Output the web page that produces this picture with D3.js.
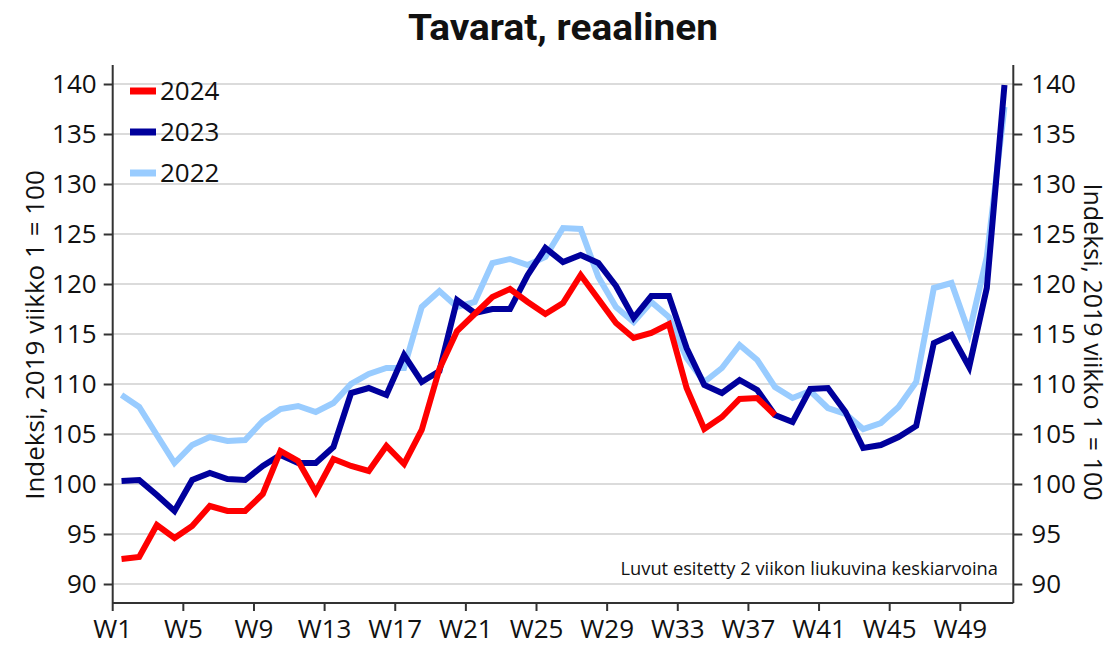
<!DOCTYPE html>
<html>
<head>
<meta charset="utf-8">
<script src="https://cdn.jsdelivr.net/npm/d3@7"></script>
<style>
  body { margin: 0; background: #fff; }
  svg { display: block; font-family: "Open Sans", "Noto Sans", sans-serif; }
</style>
</head>
<body>
<div id="chart"></div>
<script>
// weeks shown on the x axis (category per week)
var weeks = ["W1","W2","W3","W4","W5","W6","W7","W8","W9","W10",
  "W11","W12","W13","W14","W15","W16","W17","W18","W19","W20",
  "W21","W22","W23","W24","W25","W26","W27","W28","W29","W30",
  "W31","W32","W33","W34","W35","W36","W37","W38","W39","W40",
  "W41","W42","W43","W44","W45","W46","W47","W48","W49","W50","W51"];
var weekTicks = ["W1","W5","W9","W13","W17","W21","W25","W29","W33","W37","W41","W45","W49"];
var yTicks = [90, 95, 100, 105, 110, 115, 120, 125, 130, 135, 140];

var v2024 = [92.5, 92.7, 95.9, 94.6, 95.8, 97.8, 97.3, 97.3, 99.0, 103.3,
  102.3, 99.2, 102.5, 101.8, 101.3, 103.8, 102.0, 105.4, 111.5, 115.3,
  117.0, 118.7, 119.5, 118.2, 117.0, 118.1, 120.9, 118.5, 116.1, 114.6,
  115.1, 116.0, 109.6, 105.5, 106.7, 108.5, 108.6, 106.9];
var v2023 = [100.3, 100.4, 98.9, 97.3, 100.4, 101.1, 100.5, 100.4, 101.8, 102.9,
  102.1, 102.1, 103.7, 109.1, 109.6, 108.9, 112.9, 110.2, 111.3, 118.4,
  117.1, 117.5, 117.5, 120.9, 123.6, 122.2, 122.9, 122.1, 119.8, 116.6,
  118.8, 118.8, 113.6, 109.9, 109.1, 110.4, 109.4, 106.9, 106.2, 109.5,
  109.6, 107.2, 103.6, 103.9, 104.7, 105.8, 114.1, 114.9, 111.7, 119.6, 139.9];
var v2022 = [108.9, 107.7, 104.9, 102.1, 103.9, 104.7, 104.3, 104.4, 106.3, 107.5,
  107.8, 107.2, 108.1, 110.0, 111.0, 111.6, 111.6, 117.7, 119.3, 117.7,
  118.2, 122.1, 122.5, 121.9, 122.7, 125.6, 125.5, 120.7, 117.7, 116.2,
  118.2, 116.7, 112.6, 110.2, 111.6, 113.9, 112.4, 109.7, 108.6, 109.3,
  107.6, 107.0, 105.5, 106.1, 107.7, 110.2, 119.6, 120.1, 115.1, 122.7, 137.7];

var seriesNames = ["2024", "2023", "2022"];
var seriesColors = ["#ff0000", "#00009c", "#99ccff"];

function drawChart() {
  var W = 1113, H = 645;
  var pLeft = 112.7, pRight = 1013.3, pTop = 65, pBottom = 603;

  var svg = d3.select("#chart").append("svg")
    .attr("width", W).attr("height", H);

  // scales
  var x = d3.scaleBand().domain(weeks).range([pLeft, pRight]).paddingInner(0).paddingOuter(0);
  var y = d3.scaleLinear().domain([88.1, 141.9]).range([pBottom, pTop]);

  // gridlines
  svg.append("g").selectAll("line")
    .data(yTicks)
    .enter().append("line")
    .attr("x1", pLeft).attr("x2", pRight)
    .attr("y1", function(d){ return y(d); })
    .attr("y2", function(d){ return y(d); })
    .attr("stroke", "#cfcfcf")
    .attr("stroke-width", 1.5);

  // axes
  var leftAxis = svg.append("g")
    .attr("transform", "translate(" + pLeft + ",0)")
    .call(d3.axisLeft(y).tickValues(yTicks).tickSize(9).tickPadding(7));
  var rightAxis = svg.append("g")
    .attr("transform", "translate(" + pRight + ",0)")
    .call(d3.axisRight(y).tickValues(yTicks).tickSize(9).tickPadding(9));
  // bottom axis: ticks sit at the start of each week's band
  var bottomAxis = svg.append("g")
    .attr("transform", "translate(0," + pBottom + ")")
    .call(d3.axisBottom(x).tickValues(weekTicks).tickSize(8).tickPadding(9).offset(0));
  bottomAxis.selectAll(".tick").attr("transform", function(d){ return "translate(" + x(d) + ",0)"; });

  [leftAxis, rightAxis, bottomAxis].forEach(function(a){
    a.select(".domain").attr("stroke", "#333").attr("stroke-width", 2);
    a.selectAll(".tick line").attr("stroke", "#333").attr("stroke-width", 2);
    a.selectAll(".tick text").attr("fill", "#111").style("font-size", "26px")
      .style("font-family", "'Open Sans', sans-serif");
  });
  bottomAxis.select(".domain").attr("d", "M" + pLeft + ",0H" + pRight);
  leftAxis.select(".domain").attr("d", "M0," + pTop + "V" + pBottom);
  rightAxis.select(".domain").attr("d", "M0," + pTop + "V" + pBottom);

  // lines
  var line = d3.line()
    .x(function(d, i){ return x(weeks[i]) + x.bandwidth() / 2; })
    .y(function(d){ return y(d); });

  var allSeries = [v2024, v2023, v2022];
  // draw 2022 first, 2024 on top
  for (var i = allSeries.length - 1; i >= 0; i--) {
    svg.append("path")
      .datum(allSeries[i])
      .attr("d", line)
      .attr("fill", "none")
      .attr("stroke", seriesColors[i])
      .attr("stroke-width", 6)
      .attr("stroke-linejoin", "miter");
  }

  // legend
  var legend = svg.append("g");
  seriesNames.forEach(function(name, i){
    var ly = 91 + i * 41;
    legend.append("line")
      .attr("x1", 130).attr("x2", 156)
      .attr("y1", ly).attr("y2", ly)
      .attr("stroke", seriesColors[i]).attr("stroke-width", 7);
    legend.append("text")
      .attr("x", 160).attr("y", ly + 9)
      .style("font-size", "26px").attr("fill", "#111")
      .text(name);
  });

  // title
  svg.append("text")
    .attr("x", 563).attr("y", 40)
    .attr("text-anchor", "middle")
    .attr("textLength", 310).attr("lengthAdjust", "spacingAndGlyphs")
    .style("font-family", "'Roboto', sans-serif")
    .style("font-weight", "bold").style("font-size", "36px")
    .attr("fill", "#111")
    .text("Tavarat, reaalinen");

  // axis titles
  svg.append("text")
    .attr("transform", "translate(44,335) rotate(-90)")
    .attr("text-anchor", "middle")
    .style("font-size", "26px").attr("fill", "#111")
    .text("Indeksi, 2019 viikko 1 = 100");
  svg.append("text")
    .attr("transform", "translate(1084,342) rotate(90)")
    .attr("text-anchor", "middle")
    .style("font-size", "25px").attr("fill", "#111")
    .text("Indeksi, 2019 viikko 1 = 100");

  // note
  svg.append("text")
    .attr("x", 998).attr("y", 575)
    .attr("text-anchor", "end")
    .style("font-size", "18.3px").attr("fill", "#111")
    .text("Luvut esitetty 2 viikon liukuvina keskiarvoina");
}

drawChart();
</script>
</body>
</html>
